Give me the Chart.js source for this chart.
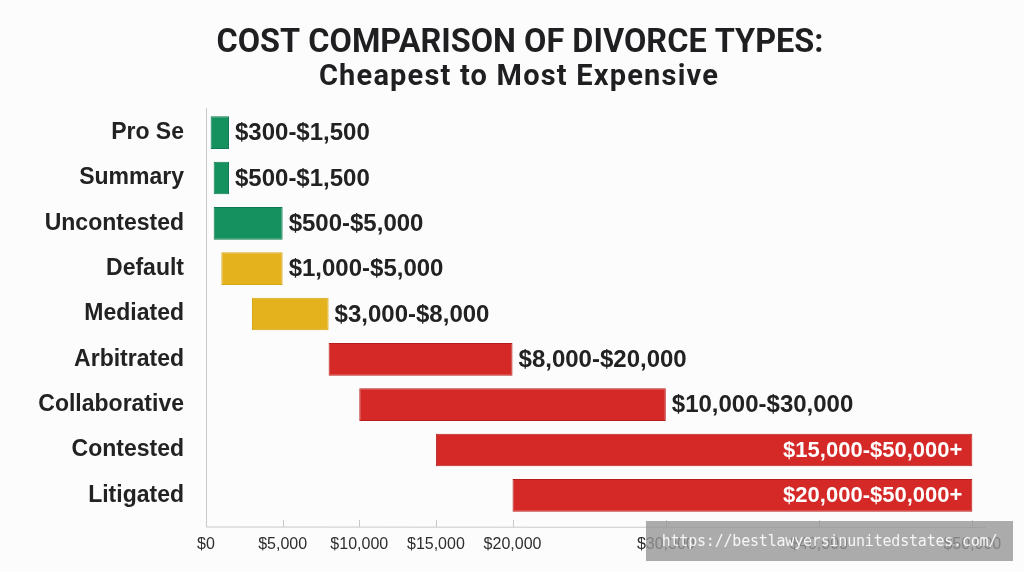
<!DOCTYPE html>
<html>
<head>
<meta charset="utf-8">
<title>Cost Comparison of Divorce Types</title>
<script src="https://cdn.jsdelivr.net/npm/chart.js@4.4.1/dist/chart.umd.min.js"></script>
<style>
  html, body { margin: 0; padding: 0; background: #fcfcfc; }
  .wrap { position: relative; width: 1024px; height: 572px; }
  .watermark {
    position: absolute; left: 646px; top: 521px; width: 367px; height: 40px;
    background: rgba(150, 150, 150, 0.8); color: #f6f6f6;
    font-family: "DejaVu Sans Mono", monospace; font-size: 15px;
    line-height: 40px; text-align: center; letter-spacing: -0.2px;
  }
</style>
</head>
<body>
<div class="wrap">
  <canvas id="costChart"></canvas>
  <div class="watermark">https://bestlawyersinunitedstates.com/</div>
</div>
<script>
const divorceTypes = ["Pro Se", "Summary", "Uncontested", "Default", "Mediated", "Arbitrated", "Collaborative", "Contested", "Litigated"];
const lowCost = [300, 500, 500, 1000, 3000, 8000, 10000, 15000, 20000];
const highCost = [1500, 1500, 5000, 5000, 8000, 20000, 30000, 50000, 50000];
const openEnded = [false, false, false, false, false, false, false, true, true];
const costTier = ["low", "low", "low", "mid", "mid", "high", "high", "high", "high"];
const xTicks = [0, 5000, 10000, 15000, 20000, 30000, 40000, 50000];

const chartTitle = "COST COMPARISON OF DIVORCE TYPES:";
const chartSubtitle = "Cheapest to Most Expensive";

const tierFill = { low: "#15905f", mid: "#e3b21d", high: "#d42926" };
const tierEdge = { low: "#0f7a50", mid: "#d9a818", high: "#b81f1c" };

const money = (v) => "$" + v.toLocaleString("en-US");
const rangeLabels = lowCost.map((lo, i) => money(lo) + "-" + money(highCost[i]) + (openEnded[i] ? "+" : ""));

const textDark = "#222222";
const axisGrey = "#c9c9c9";

// heading drawn by hand: a little right of centre and squeezed, like the original's condensed face
const heading = {
  id: "heading",
  afterDraw(chart) {
    const { ctx } = chart;
    ctx.save();
    ctx.fillStyle = "#1f1f22";
    ctx.textAlign = "center";
    ctx.textBaseline = "alphabetic";
    ctx.font = "bold 33px Roboto, 'DejaVu Sans', sans-serif";
    ctx.fillText(chartTitle, 520, 52, 607);
    ctx.font = "bold 29px Roboto, 'DejaVu Sans', sans-serif";
    ctx.letterSpacing = "1.2px";
    ctx.fillText(chartSubtitle, 519, 85, 401);
    ctx.restore();
  }
};

// axis lines, upward tick marks and the range labels next to / inside each bar
const decorations = {
  id: "decorations",
  afterDatasetsDraw(chart) {
    const { ctx, chartArea, scales } = chart;
    const axisY = chartArea.bottom + 9;
    ctx.save();
    ctx.strokeStyle = axisGrey;
    ctx.lineWidth = 1;
    ctx.beginPath();
    ctx.moveTo(chartArea.left + 0.5, chartArea.top - 2);
    ctx.lineTo(chartArea.left + 0.5, axisY);
    ctx.lineTo(chartArea.right + 6, axisY + 0.5);
    ctx.stroke();
    xTicks.forEach((v) => {
      if (v === 0) return;
      const px = Math.round(scales.x.getPixelForValue(v)) + 0.5;
      ctx.beginPath();
      ctx.moveTo(px, axisY);
      ctx.lineTo(px, axisY - 7);
      ctx.stroke();
    });

    const meta = chart.getDatasetMeta(0);
    ctx.textBaseline = "middle";
    meta.data.forEach((bar, i) => {
      const text = rangeLabels[i];
      const end = Math.max(bar.x, bar.base);
      ctx.font = "bold 24px 'Liberation Sans', Arial, sans-serif";
      const w = ctx.measureText(text).width;
      if (end + 6 + w > chartArea.right) {
        ctx.font = "bold 22px 'Liberation Sans', Arial, sans-serif";
        ctx.fillStyle = "#ffffff";
        ctx.textAlign = "right";
        ctx.fillText(text, end - 10, bar.y + 1);
      } else {
        ctx.fillStyle = textDark;
        ctx.textAlign = "left";
        ctx.fillText(text, end + 6, bar.y + 1);
      }
    });
    ctx.restore();
  }
};

new Chart(document.getElementById("costChart"), {
  type: "bar",
  data: {
    labels: divorceTypes,
    datasets: [{
      data: lowCost.map((lo, i) => [lo, highCost[i]]),
      backgroundColor: costTier.map((t) => tierFill[t]),
      borderColor: costTier.map((t) => tierEdge[t]),
      borderWidth: 1,
      borderSkipped: false,
      barPercentage: 0.8,
      categoryPercentage: 0.9
    }]
  },
  options: {
    indexAxis: "y",
    responsive: true,
    maintainAspectRatio: false,
    animation: false,
    layout: { padding: { left: 0, right: 44, top: 110, bottom: 16 } },
    plugins: {
      legend: { display: false },
      tooltip: { enabled: false },
      title: { display: false }
    },
    scales: {
      x: {
        type: "linear",
        min: 0,
        max: 50500,
        afterBuildTicks: (scale) => { scale.ticks = xTicks.map((v) => ({ value: v })); },
        afterFit: (scale) => { scale.height = 38; },
        grid: { display: false, drawTicks: false },
        border: { display: false },
        ticks: {
          autoSkip: false,
          maxRotation: 0,
          padding: 17,
          color: "#2e2e2e",
          font: { family: "'Liberation Sans', Arial, sans-serif", size: 16 },
          callback: (v) => money(v)
        }
      },
      y: {
        afterFit: (scale) => { scale.width = 206; },
        grid: { display: false, drawTicks: false },
        border: { display: false },
        ticks: {
          padding: 22,
          color: textDark,
          font: { family: "'Liberation Sans', Arial, sans-serif", size: 23, weight: "bold" }
        }
      }
    }
  },
  plugins: [decorations, heading]
});
</script>
</body>
</html>
